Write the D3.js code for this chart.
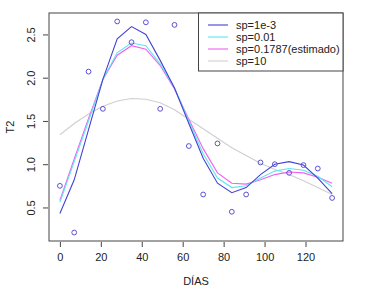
<!DOCTYPE html>
<html>
<head>
<meta charset="utf-8">
<script src="https://cdn.jsdelivr.net/npm/d3@7"></script>
<style>
  body { margin: 0; background: #fff; }
  text { font-family: "Liberation Sans", Arial, sans-serif; fill: #222; }
</style>
</head>
<body>
<div id="chart"></div>
<script>
// Data
const dias = [0, 7, 14, 21, 28, 35, 42, 49, 56, 63, 70, 77, 84, 91, 98, 105, 112, 119, 126, 133];
const t2 = [0.75, 0.21, 2.07, 1.64, 2.65, 2.41, 2.64, 1.64, 2.61, 1.21, 0.65, 1.24, 0.45, 0.65, 1.02, 1.0, 0.90, 0.99, 0.95, 0.61];
const fitSp0001 = [0.43, 0.82, 1.40, 1.98, 2.45, 2.59, 2.50, 2.20, 1.88, 1.47, 1.07, 0.78, 0.67, 0.73, 0.88, 1.00, 1.03, 0.99, 0.84, 0.66];
const fitSp001 = [0.56, 1.03, 1.50, 1.98, 2.29, 2.40, 2.37, 2.16, 1.88, 1.50, 1.12, 0.84, 0.73, 0.75, 0.84, 0.92, 0.95, 0.93, 0.86, 0.74];
const fitSpEst = [0.58, 1.06, 1.53, 1.98, 2.26, 2.37, 2.33, 2.14, 1.87, 1.52, 1.18, 0.90, 0.78, 0.77, 0.82, 0.88, 0.91, 0.90, 0.85, 0.78];
const fitSp10 = [1.34, 1.47, 1.58, 1.67, 1.73, 1.76, 1.75, 1.71, 1.63, 1.52, 1.41, 1.30, 1.19, 1.10, 1.01, 0.94, 0.88, 0.81, 0.73, 0.65];
const seriesNames = ["sp=1e-3", "sp=0.01", "sp=0.1787(estimado)", "sp=10"];
const seriesColors = ["#4343d4", "#5ee6ee", "#f25ff2", "#cfcfcf"];
const xTicks = [0, 20, 40, 60, 80, 100, 120];
const yTicks = [0.5, 1.0, 1.5, 2.0, 2.5];

const width = 369, height = 300;
const margin = { top: 13, right: 26, bottom: 59, left: 49 };

const svg = d3.select("#chart").append("svg")
  .attr("width", width)
  .attr("height", height);

// R style 4% padding on both axes
const xExt = d3.extent(dias), yExt = d3.extent(t2);
const xPad = (xExt[1] - xExt[0]) * 0.04, yPad = (yExt[1] - yExt[0]) * 0.04;

const x = d3.scaleLinear()
  .domain([xExt[0] - xPad, xExt[1] + xPad])
  .range([margin.left, width - margin.right]);
const y = d3.scaleLinear()
  .domain([yExt[0] - yPad, yExt[1] + yPad])
  .range([height - margin.bottom, margin.top]);

// Fitted curves
const fits = [fitSp0001, fitSp001, fitSpEst, fitSp10];
const line = d3.line().x((d, i) => x(dias[i])).y(d => y(d));
// draw grey first so the others sit on top
[3, 2, 1, 0].forEach(k => {
  svg.append("path")
    .datum(fits[k])
    .attr("d", line)
    .attr("fill", "none")
    .attr("stroke", seriesColors[k])
    .attr("stroke-width", 1.1);
});

// Points
svg.selectAll("circle.pt")
  .data(t2)
  .join("circle")
  .attr("class", "pt")
  .attr("cx", (d, i) => x(dias[i]))
  .attr("cy", d => y(d))
  .attr("r", 2.4)
  .attr("fill", "none")
  .attr("stroke", "#5b50d6")
  .attr("stroke-width", 1);

// Plot box
svg.append("rect")
  .attr("x", margin.left)
  .attr("y", margin.top)
  .attr("width", width - margin.right - margin.left)
  .attr("height", height - margin.bottom - margin.top)
  .attr("fill", "none")
  .attr("stroke", "#444")
  .attr("stroke-width", 1);

// X axis
const xAxis = svg.append("g")
  .attr("transform", `translate(0,${height - margin.bottom + 1})`)
  .call(d3.axisBottom(x).tickValues(xTicks).tickSize(5).tickPadding(6).tickFormat(d3.format("d")));
xAxis.select(".domain").remove();
xAxis.selectAll("line").attr("stroke", "#444");
xAxis.selectAll("text").attr("font-size", 11).style("fill", "#222");

// Y axis, labels turned like R
const yAxis = svg.append("g")
  .attr("transform", `translate(${margin.left - 1},0)`)
  .call(d3.axisLeft(y).tickValues(yTicks).tickSize(5).tickFormat(d3.format(".1f")));
yAxis.select(".domain").remove();
yAxis.selectAll("line").attr("stroke", "#444");
yAxis.selectAll("text")
  .attr("font-size", 11)
  .attr("x", 0)
  .attr("dy", 0)
  .attr("text-anchor", "middle")
  .attr("transform", "translate(-13,0) rotate(-90)")
  .style("fill", "#222");

// Axis titles
svg.append("text")
  .attr("x", (margin.left + width - margin.right) / 2)
  .attr("y", 285)
  .attr("text-anchor", "middle")
  .attr("font-size", 11)
  .text("DÍAS");
svg.append("text")
  .attr("transform", `translate(14,${(margin.top + height - margin.bottom) / 2}) rotate(-90)`)
  .attr("text-anchor", "middle")
  .attr("font-size", 11)
  .text("T2");

// Legend
const lg = svg.append("g");
lg.append("rect")
  .attr("x", 198.5).attr("y", margin.top)
  .attr("width", width - margin.right - 198.5).attr("height", 58)
  .attr("fill", "#fff").attr("stroke", "#444");
seriesNames.forEach((name, i) => {
  const yy = 25 + i * 12;
  lg.append("line")
    .attr("x1", 208).attr("x2", 228)
    .attr("y1", yy).attr("y2", yy)
    .attr("stroke", seriesColors[i]).attr("stroke-width", 1.1);
  lg.append("text")
    .attr("x", 236).attr("y", yy + 4)
    .attr("font-size", 11)
    .text(name);
});
</script>
</body>
</html>
